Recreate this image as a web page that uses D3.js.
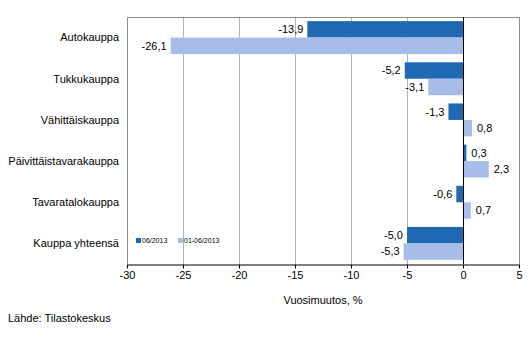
<!DOCTYPE html>
<html>
<head>
<meta charset="utf-8">
<script src="https://d3js.org/d3.v7.min.js"></script>
<style>
  body { margin: 0; background: #fff; }
  text { font-family: "Liberation Sans", Arial, sans-serif; fill: #000; }
</style>
</head>
<body>
<div id="target"></div>
<script>
var categories = ["Autokauppa", "Tukkukauppa", "Vähittäiskauppa", "Päivittäistavarakauppa", "Tavaratalokauppa", "Kauppa yhteensä"];
var seriesNames = ["06/2013", "01-06/2013"];
var month = [-13.9, -5.2, -1.3, 0.3, -0.6, -5.0];
var period = [-26.1, -3.1, 0.8, 2.3, 0.7, -5.3];
var xTicks = [-30, -25, -20, -15, -10, -5, 0, 5];
var colors = ["#1f69b3", "#a7bde9"];

var width = 532, height = 358;
var plotL = 127, plotR = 519, plotT = 17, plotB = 264;

var svg = d3.select('#target').append('svg')
    .attr('width', width)
    .attr('height', height);

var x = d3.scaleLinear().domain([-30, 5]).range([plotL, plotR]);
var y = d3.scaleBand().domain(categories).range([plotT, plotB]).paddingInner(0.2).paddingOuter(0.1);
var ys = d3.scaleBand().domain([0, 1]).range([0, y.bandwidth()]);

// grid
svg.append('g').selectAll('line')
    .data(xTicks.filter(function(d){ return d > -30 && d < 5 && d !== 0; }))
    .enter().append('line')
    .attr('x1', function(d){ return x(d) + 0.5; })
    .attr('x2', function(d){ return x(d) + 0.5; })
    .attr('y1', plotT).attr('y2', plotB)
    .attr('stroke', '#b4b4b4').attr('stroke-width', 1);

// frame
svg.append('path')
    .attr('d', 'M' + (plotL + 0.5) + ',' + plotB + 'V' + (plotT + 0.5) + 'H' + (plotR + 0.5) + 'V' + plotB)
    .attr('fill', 'none').attr('stroke', '#8c8c8c');

var rows = categories.map(function(c, i){ return {cat: c, vals: [month[i], period[i]]}; });

var fmt = function(v){ return d3.format('.1f')(v).replace('.', ',').replace('−', '-'); };

var grp = svg.append('g').selectAll('g')
    .data(rows).enter().append('g')
    .attr('transform', function(d){ return 'translate(0,' + y(d.cat) + ')'; });

grp.selectAll('rect')
    .data(function(d){ return d.vals; })
    .enter().append('rect')
    .attr('x', function(d){ return x(Math.min(0, d)); })
    .attr('y', function(d, i){ return ys(i); })
    .attr('width', function(d){ return Math.abs(x(d) - x(0)); })
    .attr('height', ys.bandwidth())
    .attr('fill', function(d, i){ return colors[i]; });

grp.selectAll('text.val')
    .data(function(d){ return d.vals; })
    .enter().append('text')
    .attr('class', 'val')
    .attr('x', function(d){ return d < 0 ? x(d) - 4 : x(d) + 5; })
    .attr('y', function(d, i){ return ys(i) + ys.bandwidth() / 2; })
    .attr('dy', '0.35em')
    .attr('text-anchor', function(d){ return d < 0 ? 'end' : 'start'; })
    .style('font-size', '11px')
    .text(fmt);

// category labels
svg.append('g').selectAll('text')
    .data(categories).enter().append('text')
    .attr('x', plotL - 8)
    .attr('y', function(d){ return y(d) + y.bandwidth() / 2; })
    .attr('dy', '0.35em')
    .attr('text-anchor', 'end')
    .style('font-size', '11px')
    .text(function(d){ return d; });

// zero line
svg.append('line')
    .attr('x1', x(0) + 0.5).attr('x2', x(0) + 0.5)
    .attr('y1', plotT).attr('y2', plotB)
    .attr('stroke', '#000');

// x axis
var xAxis = svg.append('g')
    .attr('transform', 'translate(0,' + (plotB + 0.5) + ')')
    .call(d3.axisBottom(x).tickValues(xTicks).tickSize(4).tickSizeOuter(0)
        .tickFormat(function(d){ return String(d).replace('−', '-'); }));
xAxis.select('.domain').attr('stroke', '#000');
xAxis.selectAll('.tick line').attr('stroke', '#000');
xAxis.selectAll('text').style('font-size', '11px')
    .style('font-family', '"Liberation Sans", Arial, sans-serif').attr('fill', '#000');

svg.append('text')
    .attr('x', (plotL + plotR) / 2).attr('y', 304)
    .attr('text-anchor', 'middle')
    .style('font-size', '11px')
    .text('Vuosimuutos, %');

svg.append('text')
    .attr('x', 8).attr('y', 322)
    .style('font-size', '11px')
    .text('Lähde: Tilastokeskus');

// legend
var leg = svg.append('g').attr('transform', 'translate(136,241)');
var legX = [0, 42];
seriesNames.forEach(function(n, i){
    leg.append('rect').attr('x', legX[i]).attr('y', -3).attr('width', 5).attr('height', 5).attr('fill', colors[i]);
    leg.append('text').attr('x', legX[i] + 6).attr('y', 0).attr('dy', '0.35em')
        .style('font-size', '7px').text(n);
});
</script>
</body>
</html>
